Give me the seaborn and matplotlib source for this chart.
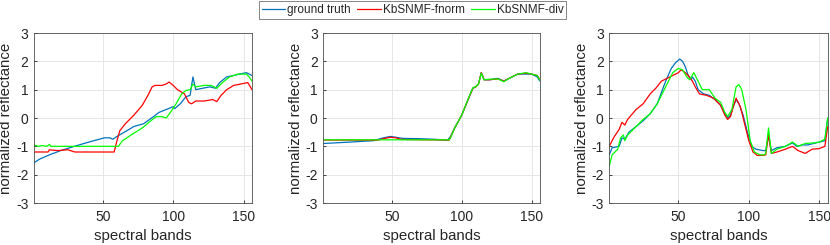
import matplotlib
matplotlib.use("Agg")
import matplotlib.pyplot as plt
import seaborn as sns
import pandas as pd

sns.set_theme(style="ticks")
plt.rcParams['font.family'] = ['Liberation Sans', 'DejaVu Sans']
plt.rcParams['axes.unicode_minus'] = False

series_names = ["ground truth", "KbSNMF-fnorm", "KbSNMF-div"]
series_colors = ["#0072BD", "#FF0000", "#00FF00"]

# ---- Panel 1 ----
p1_gt_x = [1, 5, 12, 20, 31, 40, 51, 55, 57, 60, 67, 72, 79, 86, 90, 95, 100, 101, 105, 109, 112, 114, 116, 121, 126, 130, 133, 138, 143, 147, 152, 154, 156]
p1_gt_y = [-1.58, -1.45, -1.3, -1.15, -0.98, -0.85, -0.7, -0.7, -0.75, -0.65, -0.45, -0.3, -0.2, 0.05, 0.2, 0.3, 0.4, 0.33, 0.5, 0.75, 0.8, 1.45, 1.0, 1.05, 1.1, 1.05, 1.25, 1.45, 1.5, 1.55, 1.6, 1.55, 1.5]
p1_fn_x = [1, 11, 12, 13, 18, 25, 30, 45, 58, 60, 62, 66, 72, 78, 82, 85, 87, 92, 95, 97, 100, 103, 108, 111, 113, 116, 122, 128, 131, 134, 138, 143, 148, 153, 156]
p1_fn_y = [-1.2, -1.2, -1.12, -1.13, -1.15, -1.12, -1.2, -1.2, -1.2, -0.8, -0.45, -0.2, 0.1, 0.45, 0.8, 1.1, 1.15, 1.15, 1.2, 1.27, 1.15, 1.0, 0.85, 0.55, 0.5, 0.6, 0.6, 0.65, 0.58, 0.8, 1.0, 1.15, 1.2, 1.25, 1.0]
p1_dv_x = [1, 4, 7, 10, 12, 13, 15, 40, 61, 64, 70, 78, 84, 88, 92, 95, 98, 102, 106, 109, 112, 114, 116, 122, 127, 131, 135, 140, 146, 152, 154, 156]
p1_dv_y = [-0.95, -1.0, -0.97, -1.0, -0.93, -1.0, -1.0, -1.0, -1.0, -0.8, -0.6, -0.35, -0.1, 0.05, 0.05, 0.0, 0.2, 0.5, 0.85, 0.97, 1.0, 1.2, 1.1, 1.15, 1.15, 1.05, 1.25, 1.45, 1.55, 1.55, 1.45, 1.3]

# ---- Panel 2 ----
p2_gt_x = [1, 20, 37, 44, 49, 53, 58, 70, 80, 90, 92, 95, 100, 105, 108, 110, 112, 114, 116, 120, 126, 130, 134, 140, 146, 150, 154, 156]
p2_gt_y = [-0.9, -0.85, -0.8, -0.7, -0.65, -0.68, -0.72, -0.73, -0.75, -0.78, -0.65, -0.35, 0.1, 0.7, 1.05, 1.1, 1.2, 1.6, 1.35, 1.35, 1.4, 1.3, 1.4, 1.55, 1.55, 1.55, 1.45, 1.3]
p2_fn_x = [1, 40, 45, 49, 53, 56, 60, 75, 91, 92, 95, 100, 105, 108, 110, 112, 114, 116, 120, 126, 130, 134, 140, 146, 150, 154, 156]
p2_fn_y = [-0.78, -0.78, -0.72, -0.68, -0.7, -0.75, -0.76, -0.77, -0.78, -0.68, -0.35, 0.1, 0.7, 1.05, 1.1, 1.2, 1.6, 1.35, 1.35, 1.38, 1.3, 1.4, 1.55, 1.58, 1.55, 1.5, 1.35]
p2_dv_x = [1, 91, 92, 95, 100, 105, 108, 110, 112, 114, 116, 120, 126, 130, 134, 140, 146, 150, 154, 156]
p2_dv_y = [-0.77, -0.77, -0.7, -0.35, 0.1, 0.72, 1.07, 1.1, 1.2, 1.58, 1.35, 1.37, 1.38, 1.28, 1.4, 1.55, 1.6, 1.55, 1.5, 1.33]

# ---- Panel 3 ----
p3_gt_x = [1, 3, 8, 10, 12, 15, 20, 25, 30, 35, 38, 41, 45, 48, 51, 53, 55, 57, 59, 60, 62, 64, 68, 72, 76, 80, 83, 85, 87, 89, 91, 93, 96, 99, 102, 105, 110, 112, 114, 116, 120, 126, 131, 134, 138, 142, 146, 150, 154, 156]
p3_gt_y = [-1.3, -1.05, -1.0, -0.7, -0.75, -0.5, -0.3, -0.1, 0.15, 0.5, 0.9, 1.3, 1.75, 1.95, 2.08, 2.0, 1.8, 1.5, 1.35, 1.45, 1.3, 1.0, 0.85, 0.8, 0.65, 0.45, 0.15, 0.0, 0.1, 0.4, 0.65, 0.5, 0.1, -0.5, -1.0, -1.1, -1.15, -1.15, -0.6, -1.15, -1.05, -1.0, -0.88, -1.0, -0.95, -0.95, -0.9, -0.85, -0.8, 0.0]
p3_fn_x = [1, 4, 8, 10, 12, 14, 20, 25, 30, 34, 38, 42, 46, 50, 52, 55, 58, 60, 62, 65, 70, 75, 80, 83, 85, 87, 89, 91, 94, 97, 100, 103, 106, 110, 112, 114, 116, 120, 126, 131, 135, 140, 145, 150, 154, 156]
p3_fn_y = [-1.0, -0.7, -0.4, -0.15, -0.25, -0.05, 0.3, 0.5, 0.85, 1.05, 1.3, 1.4, 1.5, 1.6, 1.7, 1.6, 1.45, 1.3, 1.1, 0.85, 0.8, 0.7, 0.45, 0.1, -0.05, 0.05, 0.4, 0.7, 0.4, -0.2, -0.8, -1.2, -1.32, -1.32, -1.3, -0.6, -1.25, -1.2, -1.1, -1.0, -1.15, -1.25, -1.1, -1.08, -1.0, -0.3]
p3_dv_x = [1, 3, 7, 9, 11, 12, 14, 20, 25, 30, 35, 38, 42, 46, 50, 53, 56, 58, 61, 64, 67, 72, 76, 80, 83, 85, 88, 91, 93, 95, 98, 101, 104, 108, 111, 112, 114, 116, 120, 126, 131, 135, 140, 146, 150, 154, 156]
p3_dv_y = [-1.7, -1.3, -1.1, -0.7, -0.6, -0.8, -0.6, -0.3, -0.05, 0.15, 0.5, 0.8, 1.2, 1.6, 1.75, 1.7, 1.45, 1.35, 1.6, 1.3, 1.0, 1.0, 0.7, 0.55, 0.2, 0.05, 0.3, 1.1, 1.18, 1.0, 0.3, -0.8, -1.2, -1.3, -1.3, -1.25, -0.35, -1.25, -1.1, -1.0, -0.85, -1.0, -0.9, -0.88, -0.85, -0.75, 0.0]

panels = [
    [(p1_gt_x, p1_gt_y), (p1_fn_x, p1_fn_y), (p1_dv_x, p1_dv_y)],
    [(p2_gt_x, p2_gt_y), (p2_fn_x, p2_fn_y), (p2_dv_x, p2_dv_y)],
    [(p3_gt_x, p3_gt_y), (p3_fn_x, p3_fn_y), (p3_dv_x, p3_dv_y)],
]

x_ticks = [50, 100, 150]
y_ticks = [-3, -2, -1, 0, 1, 2, 3]
x_label = "spectral bands"
y_label = "normalized reflectance"

W, H = 830, 245
fig = plt.figure(figsize=(W / 100, H / 100), dpi=100)
boxes = [(34, 252), (323.3, 540), (609.3, 827.7)]
top, bottom = 33, 203
axc = "#262626"
handles = []
for i, (l, r) in enumerate(boxes):
    ax = fig.add_axes([l / W, 1 - bottom / H, (r - l) / W, (bottom - top) / H])
    for j, (xs, ys) in enumerate(panels[i]):
        df = pd.DataFrame({"band": xs, "value": ys})
        sns.lineplot(data=df, x="band", y="value", ax=ax, color=series_colors[j],
                     linewidth=0.9, label=series_names[j], legend=False)
    ax.set_xlim(1, 156)
    ax.set_ylim(-3, 3)
    ax.set_xticks(x_ticks)
    ax.set_yticks(y_ticks)
    ax.grid(True, color="#e6e6e6", linewidth=0.7)
    ax.set_axisbelow(True)
    ax.tick_params(direction="in", length=2.5, width=0.6, colors=axc, labelsize=10)
    ax.tick_params(axis="y", pad=4)
    ax.tick_params(axis="x", pad=5)
    for s in ax.spines.values():
        s.set_color("#4d4d4d")
        s.set_linewidth(0.6)
    ax.set_xlabel(x_label, fontsize=10.8, color=axc)
    ax.set_ylabel(y_label, fontsize=10.8, color=axc)
    ax.xaxis.set_label_coords(0.5, (203 - 243) / (bottom - top))
    ax.yaxis.set_label_coords(-0.095, 0.5)
    ax.xaxis.label.set_va("bottom")
    if i == 0:
        handles = ax.get_lines()[:3]

leg = fig.legend(handles, series_names, loc="center", bbox_to_anchor=(412.5 / W, 1 - 10 / H),
                 ncol=3, fontsize=8.5, frameon=True, fancybox=False, edgecolor="#4d4d4d",
                 handlelength=2.0, handletextpad=0.15, columnspacing=0.55,
                 borderpad=0.25, borderaxespad=0)
leg.get_frame().set_linewidth(0.6)
for t in leg.get_texts():
    t.set_color(axc)

fig.savefig("out.png", dpi=100)
